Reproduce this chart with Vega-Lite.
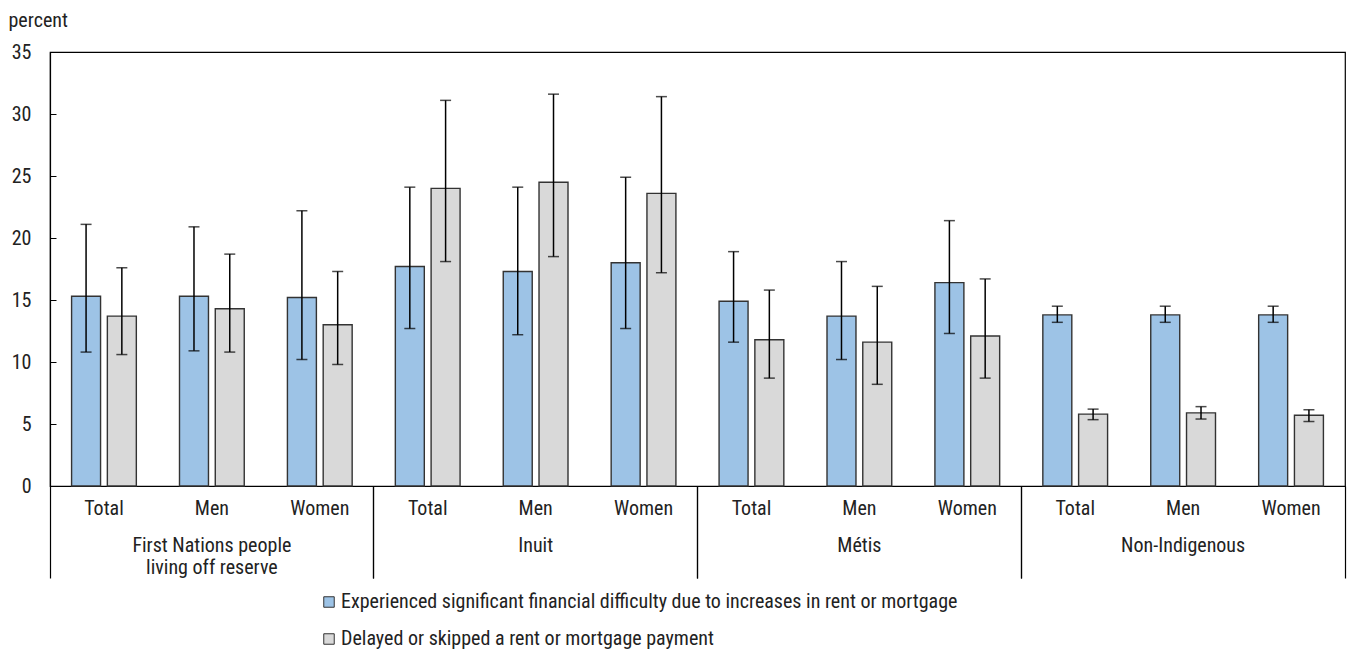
{
  "$schema": "https://vega.github.io/schema/vega-lite/v6.json",
  "width": 1295,
  "height": 434,
  "autosize": {"type": "none"},
  "padding": {"left": 50, "top": 52, "right": 3, "bottom": 165},
  "background": "white",
  "config": {
    "font": "Roboto Condensed, DejaVu Sans Condensed, Roboto, sans-serif",
    "view": {"stroke": "#000", "strokeWidth": 1.2},
    "axis": {"labelFont": "Roboto Condensed, DejaVu Sans Condensed, Roboto, sans-serif", "labelColor": "#222", "labelFontSize": 20, "grid": false, "titleFont": "Roboto Condensed, DejaVu Sans Condensed, Roboto, sans-serif"},
    "legend": {"labelFont": "Roboto Condensed, DejaVu Sans Condensed, Roboto, sans-serif"}
  },
  "datasets": {
    "bars": [
      {"k": "FN|Total", "series": "Experienced significant financial difficulty due to increases in rent or mortgage", "v": 15.3, "lo": 10.8, "hi": 21.1},
      {"k": "FN|Total", "series": "Delayed or skipped a rent or mortgage payment", "v": 13.7, "lo": 10.6, "hi": 17.6},
      {"k": "FN|Men", "series": "Experienced significant financial difficulty due to increases in rent or mortgage", "v": 15.3, "lo": 10.9, "hi": 20.9},
      {"k": "FN|Men", "series": "Delayed or skipped a rent or mortgage payment", "v": 14.3, "lo": 10.8, "hi": 18.7},
      {"k": "FN|Women", "series": "Experienced significant financial difficulty due to increases in rent or mortgage", "v": 15.2, "lo": 10.2, "hi": 22.2},
      {"k": "FN|Women", "series": "Delayed or skipped a rent or mortgage payment", "v": 13.0, "lo": 9.8, "hi": 17.3},
      {"k": "IN|Total", "series": "Experienced significant financial difficulty due to increases in rent or mortgage", "v": 17.7, "lo": 12.7, "hi": 24.1},
      {"k": "IN|Total", "series": "Delayed or skipped a rent or mortgage payment", "v": 24.0, "lo": 18.1, "hi": 31.1},
      {"k": "IN|Men", "series": "Experienced significant financial difficulty due to increases in rent or mortgage", "v": 17.3, "lo": 12.2, "hi": 24.1},
      {"k": "IN|Men", "series": "Delayed or skipped a rent or mortgage payment", "v": 24.5, "lo": 18.5, "hi": 31.6},
      {"k": "IN|Women", "series": "Experienced significant financial difficulty due to increases in rent or mortgage", "v": 18.0, "lo": 12.7, "hi": 24.9},
      {"k": "IN|Women", "series": "Delayed or skipped a rent or mortgage payment", "v": 23.6, "lo": 17.2, "hi": 31.4},
      {"k": "ME|Total", "series": "Experienced significant financial difficulty due to increases in rent or mortgage", "v": 14.9, "lo": 11.6, "hi": 18.9},
      {"k": "ME|Total", "series": "Delayed or skipped a rent or mortgage payment", "v": 11.8, "lo": 8.7, "hi": 15.8},
      {"k": "ME|Men", "series": "Experienced significant financial difficulty due to increases in rent or mortgage", "v": 13.7, "lo": 10.2, "hi": 18.1},
      {"k": "ME|Men", "series": "Delayed or skipped a rent or mortgage payment", "v": 11.6, "lo": 8.2, "hi": 16.1},
      {"k": "ME|Women", "series": "Experienced significant financial difficulty due to increases in rent or mortgage", "v": 16.4, "lo": 12.3, "hi": 21.4},
      {"k": "ME|Women", "series": "Delayed or skipped a rent or mortgage payment", "v": 12.1, "lo": 8.7, "hi": 16.7},
      {"k": "NI|Total", "series": "Experienced significant financial difficulty due to increases in rent or mortgage", "v": 13.8, "lo": 13.2, "hi": 14.5},
      {"k": "NI|Total", "series": "Delayed or skipped a rent or mortgage payment", "v": 5.8, "lo": 5.35, "hi": 6.2},
      {"k": "NI|Men", "series": "Experienced significant financial difficulty due to increases in rent or mortgage", "v": 13.8, "lo": 13.2, "hi": 14.5},
      {"k": "NI|Men", "series": "Delayed or skipped a rent or mortgage payment", "v": 5.9, "lo": 5.4, "hi": 6.4},
      {"k": "NI|Women", "series": "Experienced significant financial difficulty due to increases in rent or mortgage", "v": 13.8, "lo": 13.2, "hi": 14.5},
      {"k": "NI|Women", "series": "Delayed or skipped a rent or mortgage payment", "v": 5.7, "lo": 5.2, "hi": 6.15}
    ],
    "groups": [
      {"g": "First Nations people|living off reserve"},
      {"g": "Inuit"},
      {"g": "Métis"},
      {"g": "Non-Indigenous"}
    ]
  },
  "resolve": {"scale": {"x": "independent"}},
  "layer": [
    {
      "data": {"name": "bars"},
      "encoding": {
        "x": {
          "field": "k", "type": "nominal", "sort": null,
          "scale": {"paddingInner": 0.4, "paddingOuter": 0.2},
          "axis": {"orient": "bottom", "title": null, "labelExpr": "split(datum.value,'|')[1]", "labelAngle": 0, "ticks": false, "domainColor": "#000", "domainWidth": 1.2, "labelPadding": 12, "labelBaseline": "top"}
        },
        "xOffset": {
          "field": "series", "type": "nominal", "sort": null,
          "scale": {"domain": ["Experienced significant financial difficulty due to increases in rent or mortgage", "Delayed or skipped a rent or mortgage payment"], "paddingInner": 0.19, "paddingOuter": 0}
        }
      },
      "layer": [
        {
          "mark": {"type": "bar", "stroke": "#333", "strokeWidth": 1.4},
          "encoding": {
            "y": {"field": "v", "type": "quantitative", "title": "percent",
              "scale": {"domain": [0, 35], "nice": false},
              "axis": {"values": [0, 5, 10, 15, 20, 25, 30, 35], "tickSize": -6, "labelPadding": 25, "tickColor": "#000", "domainColor": "#000", "domainWidth": 1.2, "titleAngle": 0, "titleAlign": "left", "titleBaseline": "middle", "titleX": -42, "titleY": -32, "titleFontWeight": "normal", "titleFontSize": 20, "titleColor": "#222"}
            },
            "color": {
              "field": "series", "type": "nominal",
              "scale": {"domain": ["Experienced significant financial difficulty due to increases in rent or mortgage", "Delayed or skipped a rent or mortgage payment"], "range": ["#9DC3E6", "#D9D9D9"]},
              "legend": {"orient": "none", "legendX": 269, "legendY": 540, "title": null, "direction": "vertical", "symbolType": "square", "symbolSize": 110, "symbolStrokeColor": "#333", "symbolStrokeWidth": 1, "labelFontSize": 20, "labelLimit": 900, "labelOffset": 2, "rowPadding": 17, "labelColor": "#222", "padding": 0}
            }
          }
        },
        {
          "mark": {"type": "rule", "color": "#000", "strokeWidth": 1.5},
          "encoding": {
            "y": {"field": "lo", "type": "quantitative", "title": "percent"},
            "y2": {"field": "hi"}
          }
        },
        {
          "mark": {"type": "tick", "color": "#000", "thickness": 1.5, "size": 11},
          "encoding": {"y": {"field": "lo", "type": "quantitative", "title": "percent"}}
        },
        {
          "mark": {"type": "tick", "color": "#000", "thickness": 1.5, "size": 11},
          "encoding": {"y": {"field": "hi", "type": "quantitative", "title": "percent"}}
        }
      ]
    },
    {
      "data": {"name": "groups"},
      "mark": {"type": "rule", "opacity": 0},
      "encoding": {
        "x": {"field": "g", "type": "nominal", "sort": null,
          "scale": {"paddingInner": 0, "paddingOuter": 0},
          "axis": {"orient": "bottom", "title": null, "labelExpr": "split(datum.value,'|')", "labelAngle": 0, "ticks": false, "domain": false, "labelPadding": 49, "labelFontSize": 20, "labelLineHeight": 22, "labelBaseline": "top", "labelLimit": 300, "labelOverlap": false}
        }
      }
    },
    {
      "data": {"name": "groups"},
      "mark": {"type": "rule", "opacity": 0},
      "encoding": {
        "x": {"field": "g", "type": "nominal", "sort": null,
          "scale": {"paddingInner": 0, "paddingOuter": 0},
          "axis": {"orient": "bottom", "title": null, "labels": false, "domain": false, "ticks": true, "tickSize": 92, "tickColor": "#000", "tickWidth": 1.2, "bandPosition": 0}
        }
      }
    },
    {
      "data": {"name": "groups"},
      "mark": {"type": "rule", "opacity": 0},
      "encoding": {
        "x": {"field": "g", "type": "nominal", "sort": null,
          "scale": {"paddingInner": 0, "paddingOuter": 0},
          "axis": {"orient": "bottom", "title": null, "labels": false, "domain": false, "ticks": true, "tickSize": 92, "tickColor": "#000", "tickWidth": 1.2, "bandPosition": 1}
        }
      }
    }
  ]
}
